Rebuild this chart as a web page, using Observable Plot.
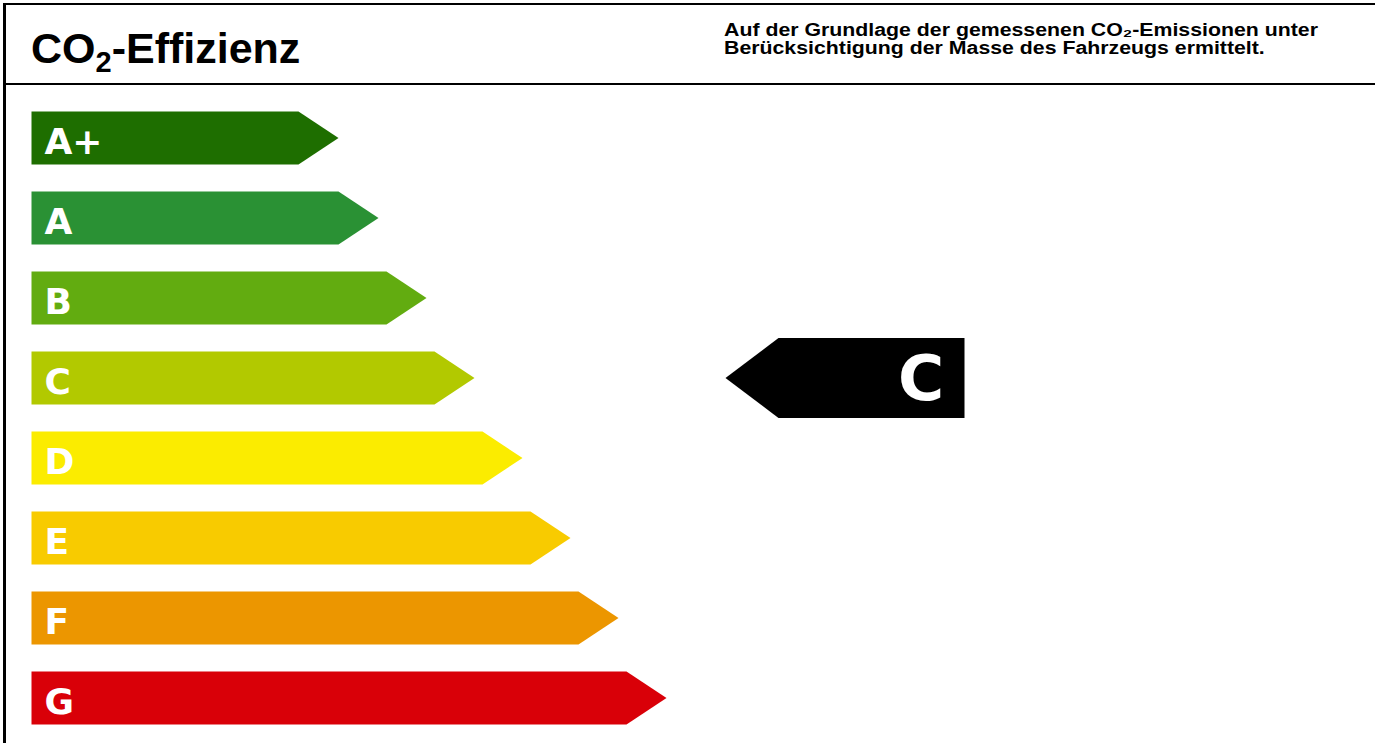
<!DOCTYPE html>
<html>
<head>
<meta charset="utf-8">
<script src="https://cdn.jsdelivr.net/npm/d3@7"></script>
<script src="https://cdn.jsdelivr.net/npm/@observablehq/plot@0.6"></script>
<style>
  html, body { margin: 0; padding: 0; overflow: hidden; background: #fff; width: 1375px; height: 743px; }
  #frame { position: absolute; left: 3px; top: 3px; right: 0; bottom: 0; border-left: 3px solid #000; border-top: 2px solid #000; }
  #header { position: relative; height: 78px; border-bottom: 2px solid #000; }
  #title { position: absolute; left: 25px; top: 21.6px; font: bold 43px "Liberation Sans", Arial, sans-serif; line-height: 1; white-space: nowrap; color: #000; }
  #title sub { font-size: 29px; vertical-align: baseline; position: relative; top: 9px; }
  #note { position: absolute; left: 718px; top: 15.5px; font: bold 18px "Liberation Sans", Arial, sans-serif; line-height: 18.5px; white-space: nowrap; transform-origin: 0 0; color: #000; }
  #chart { position: relative; }
</style>
</head>
<body>
<div id="frame">
  <div id="header">
    <div id="title">CO<sub>2</sub>-Effizienz</div>
    <div id="note"><span id="noteLine1">Auf der Grundlage der gemessenen CO₂-Emissionen unter</span><br>Berücksichtigung der Masse des Fahrzeugs ermittelt.</div>
  </div>
  <div id="chart"></div>
</div>
<script>
// ---- data ----
const grades = ["A+", "A", "B", "C", "D", "E", "F", "G"];
const arrowLengths = [307, 347, 395, 443, 491, 539, 587, 635];
const gradeColors = ["#1e6e00", "#2a9134", "#62ac10", "#b2c900", "#fbec00", "#f8cb00", "#ec9600", "#d90008"];
const rating = "C";

// ---- layout constants ----
const halfBar = 53 / 80 / 2;     // half bar thickness, in row units
const tipLen = 40;               // arrow tip length, x units
const indHalf = 0.5;             // indicator half height, row units
const indTip = 53;
const indStart = 694, indEnd = 933;

const rows = grades.map((g, i) => ({grade: g, row: i, length: arrowLengths[i], color: gradeColors[i]}));
const arrowPts = rows.flatMap(d => [
  [0, d.row - halfBar],
  [d.length - tipLen, d.row - halfBar],
  [d.length, d.row],
  [d.length - tipLen, d.row + halfBar],
  [0, d.row + halfBar]
].map(([x, y]) => ({grade: d.grade, color: d.color, x, y})));

const rRow = grades.indexOf(rating);
const indicatorPts = [
  [indStart, rRow],
  [indStart + indTip, rRow - indHalf],
  [indEnd, rRow - indHalf],
  [indEnd, rRow + indHalf],
  [indStart + indTip, rRow + indHalf]
].map(([x, y]) => ({x, y}));

const chart = Plot.plot({
  width: 1369,
  height: 658,
  marginTop: 0, marginBottom: 0, marginRight: 0, marginLeft: 25,
  x: {domain: [0, 1344], axis: null},
  y: {domain: [0, 7], range: [52.5, 612.5], axis: null},
  color: {type: "identity"},
  style: {background: "transparent", overflow: "visible"},
  marks: [
    Plot.line(arrowPts, {x: "x", y: "y", z: "grade", fill: "color", stroke: "none", curve: "linear"}),
    Plot.text(rows, {
      x: () => 13, y: "row", text: "grade",
      fill: "white", fontWeight: "bold", fontFamily: "DejaVu Sans", fontSize: 36,
      textAnchor: "start", lineAnchor: "middle", dy: 4
    }),
    Plot.line(indicatorPts, {x: "x", y: "y", fill: "black", stroke: "none", curve: "linear"}),
    Plot.text([rating], {
      x: () => 889.5, y: () => rRow, text: d => d,
      fill: "white", fontWeight: "bold", fontFamily: "DejaVu Sans", fontSize: 63,
      textAnchor: "middle", lineAnchor: "middle", dy: 1.6
    })
  ]
});
document.getElementById("chart").append(chart);

// fit the header note to the measured width of its first line
const note = document.getElementById("note");
const w1 = document.getElementById("noteLine1").getBoundingClientRect().width;
note.style.transform = `scaleX(${594 / w1})`;
</script>
</body>
</html>
